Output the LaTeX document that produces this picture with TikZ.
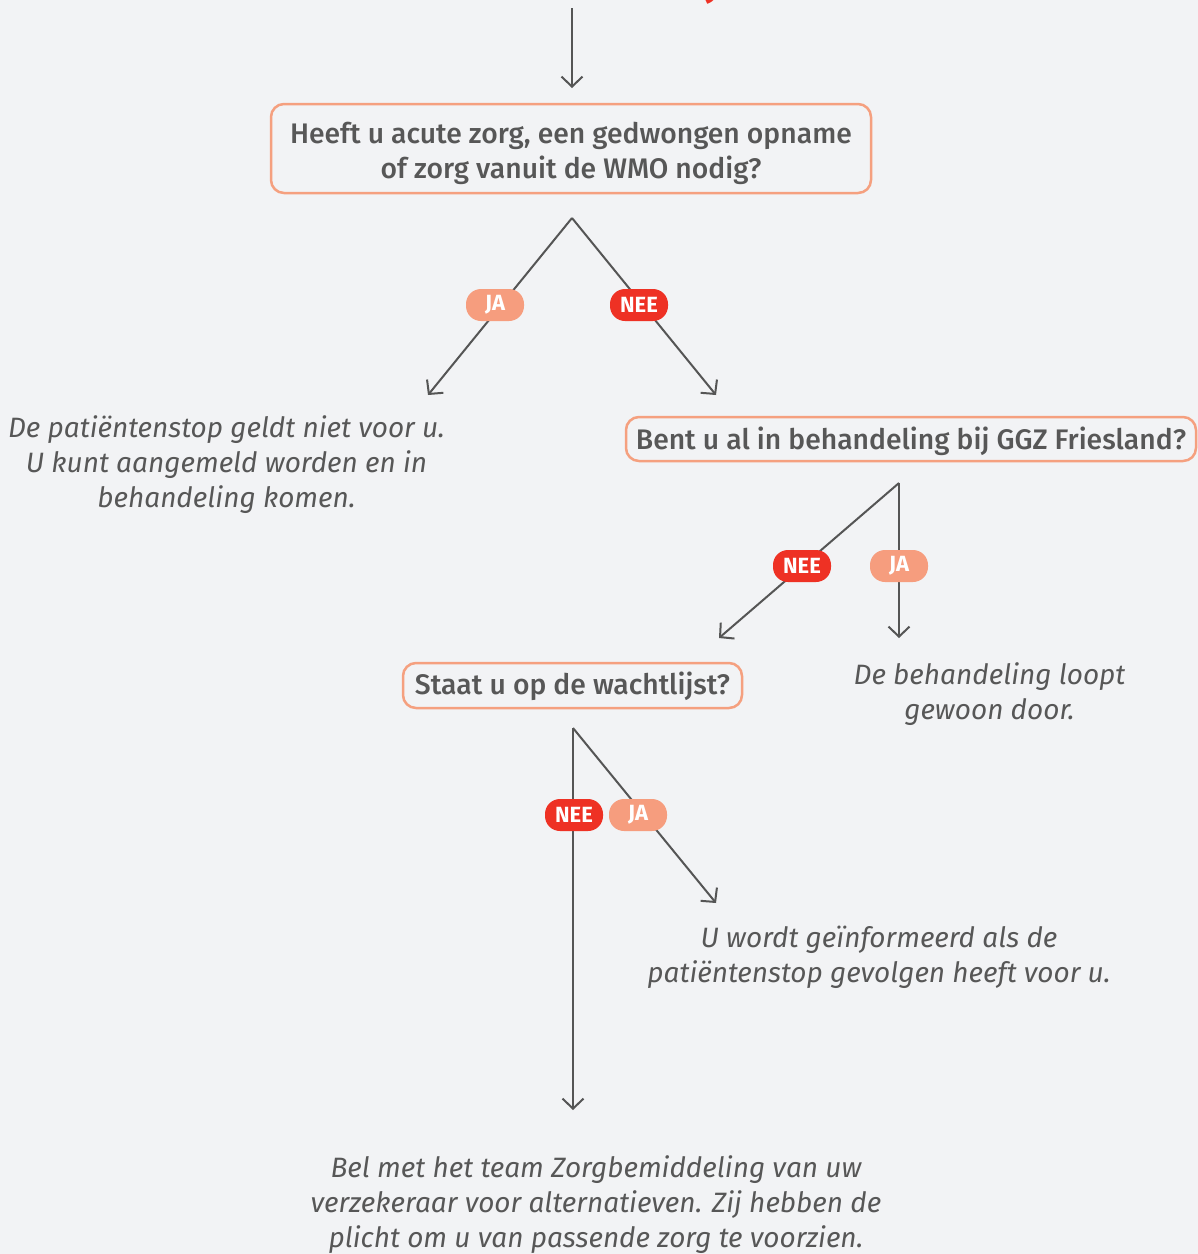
\documentclass[tikz,border=0pt]{standalone}
\usepackage{fontspec}
\setmainfont{Fira Sans}
\newfontfamily\boxfont{Fira Sans}[UprightFont=* Medium]
\usetikzlibrary{arrows.meta}
\definecolor{bg}{HTML}{F2F3F5}
\definecolor{txt}{HTML}{575757}
\definecolor{salmon}{HTML}{F5A07F}
\definecolor{japill}{HTML}{F69D7E}
\definecolor{neepill}{HTML}{EE3124}
\definecolor{ln}{HTML}{555555}
\begin{document}
\begin{tikzpicture}[x=1pt,y=-1pt,
 qbox/.style={draw=salmon, line width=2.5pt, rounded corners=13pt, fill=bg, inner sep=0pt},
 qtext/.style={text=txt, font=\boxfont\fontsize{28.3}{35}\selectfont, align=center, inner sep=0pt},
 answer/.style={text=txt, font=\itshape\fontsize{28}{35}\selectfont, align=center, inner sep=0pt},
 pill/.style={rounded corners=15pt, minimum height=32pt, minimum width=58pt, text=white,
   font=\bfseries\fontsize{22}{22}\selectfont, inner sep=0pt},
 ja/.style={pill, fill=japill},
 nee/.style={pill, fill=neepill},
 conn/.style={draw=ln, line width=2pt, -{Straight Barb[length=10pt,width=21pt]}}
]
\fill[bg] (0,0) rectangle (1198,1254);
\useasboundingbox (0,0) rectangle (1198,1254);
% cut-off red title fragment
\begin{scope}
\clip (0,0) rectangle (1198,1254);
\node[text=neepill, font=\bfseries\fontsize{40}{40}\selectfont, inner sep=0pt, anchor=base] (title) at (713,-5) {j};
\end{scope}

% question boxes
\node[qbox, minimum width=600pt, minimum height=89pt] (q1) at (571,148.5) {};
\node[qtext] (q1t) at (571,153.5) {Heeft u acute zorg, een gedwongen opname\\of zorg vanuit de WMO nodig?};
\node[qbox, minimum width=570pt, minimum height=44pt] (q2) at (911,439) {};
\node[qtext] (q2t) at (911,441) {Bent u al in behandeling bij GGZ Friesland?};
\node[qbox, minimum width=339pt, minimum height=45pt] (q3) at (572.5,685.5) {};
\node[qtext] (q3t) at (572.5,686.5) {Staat u op de wachtlijst?};

% answers
\node[answer] (a1) at (226.5,464.5) {De patiëntenstop geldt niet voor u.\\U kunt aangemeld worden en in\\behandeling komen.};
\node[answer] (a2) at (989.5,694.5) {De behandeling loopt\\gewoon door.};
\node[answer] (a3) at (879,957) {U wordt geïnformeerd als de\\patiëntenstop gevolgen heeft voor u.};
\node[answer] (a4) at (596,1205) {Bel met het team Zorgbemiddeling van uw\\verzekeraar voor alternatieven. Zij hebben de\\plicht om u van passende zorg te voorzien.};

% coordinates
\coordinate (s0) at (572,8);
\coordinate (e0) at (572,88);
\coordinate (p1) at (572,218);
\coordinate (e1l) at (428,395);
\coordinate (e1r) at (716,395);
\coordinate (p2) at (899,483);
\coordinate (e2l) at (719,638);
\coordinate (e2r) at (899,638);
\coordinate (p3) at (573,728);
\coordinate (e3l) at (573,1110);
\coordinate (e3r) at (716,903);

% connectors
\draw[conn] (s0) -- (e0);
\draw[conn] (p1) -- (e1l);
\draw[conn] (p1) -- (e1r);
\draw[conn] (p2) -- (e2l);
\draw[conn] (p2) -- (e2r);
\draw[conn] (p3) -- (e3l);
\draw[conn] (p3) -- (e3r);

% labels
\node[ja] (j1) at (495,305) {JA};
\node[nee] (n1) at (639,305) {NEE};
\node[nee] (n2) at (802,566) {NEE};
\node[ja] (j2) at (899,566) {JA};
\node[nee] (n3) at (574,815) {NEE};
\node[ja] (j3) at (638,815) {JA};
\end{tikzpicture}
\end{document}
